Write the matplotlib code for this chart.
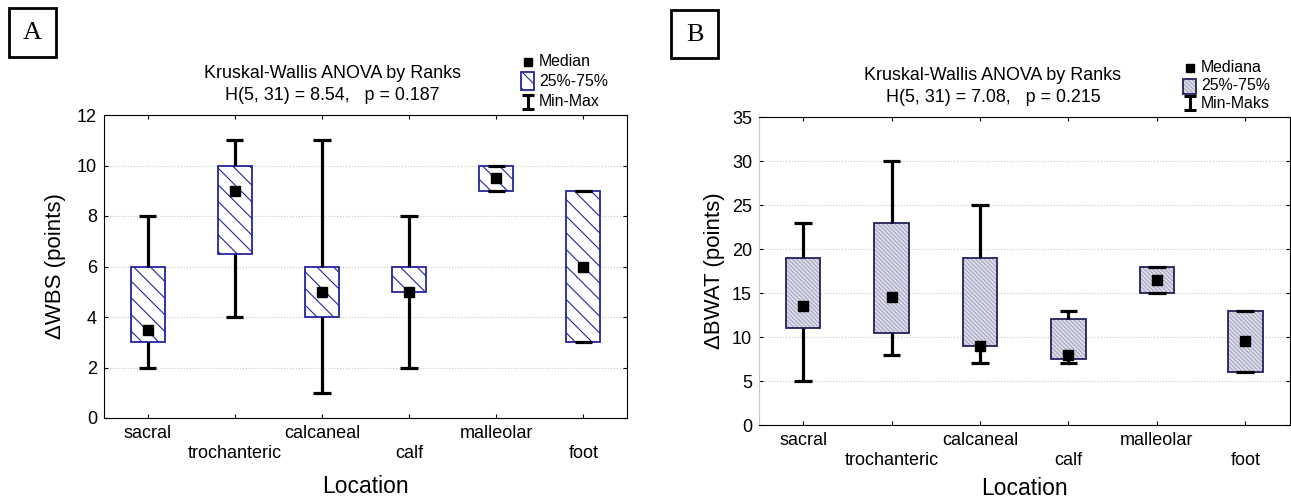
import matplotlib
matplotlib.use('Agg')
import matplotlib.pyplot as plt
from matplotlib.patches import Rectangle
import numpy as np

plt.rcParams['font.family'] = ['Liberation Sans', 'DejaVu Sans']
plt.rcParams['hatch.linewidth'] = 0.8

# 부위 이름
locations = ['sacral', 'trochanteric', 'calcaneal', 'calf', 'malleolar', 'foot']

# A: WBS 변화량 (min, 25%, median, 75%, max)
wbs_min = [2, 4, 1, 2, 9, 3]
wbs_q1 = [3, 6.5, 4, 5, 9, 3]
wbs_med = [3.5, 9, 5, 5, 9.5, 6]
wbs_q3 = [6, 10, 6, 6, 10, 9]
wbs_max = [8, 11, 11, 8, 10, 9]

# B: BWAT 변화량
bwat_min = [5, 8, 7, 7, 15, 6]
bwat_q1 = [11, 10.5, 9, 7.5, 15, 6]
bwat_med = [13.5, 14.5, 9, 8, 16.5, 9.5]
bwat_q3 = [19, 23, 19, 12, 18, 13]
bwat_max = [23, 30, 25, 13, 18, 13]

W, H = 1291, 500
fig = plt.figure(figsize=(W / 100, H / 100), dpi=100)

B_FILL = '#dedeea'
B_HATCH = '#a6a6c2'
B_EDGE = '#22225c'
A_EDGE = '#2424a0'


def px_axes(left, top, right, bottom):
    return fig.add_axes([left / W, 1 - bottom / H, (right - left) / W, (bottom - top) / H])


def draw_box(ax, mins, q1, med, q3, maxs, style, xpad):
    x = np.arange(1, len(locations) + 1)
    q1 = np.array(q1)
    q3 = np.array(q3)
    bw = 0.39
    cw = 0.2
    if style == 'A':
        ax.bar(x, q3 - q1, bottom=q1, width=bw, facecolor='white',
               edgecolor=A_EDGE, linewidth=1.3, hatch=r'\\', zorder=2)
    else:
        ax.bar(x, q3 - q1, bottom=q1, width=bw, facecolor=B_FILL,
               edgecolor=B_HATCH, linewidth=0, hatch=r'\\\\\\\\', zorder=2)
        ax.bar(x, q3 - q1, bottom=q1, width=bw, facecolor='none',
               edgecolor=B_EDGE, linewidth=1.3, zorder=2)
    ax.vlines(x, mins, q1, color='black', linewidth=2.3, zorder=3)
    ax.vlines(x, q3, maxs, color='black', linewidth=2.3, zorder=3)
    ax.hlines(mins, x - cw / 2, x + cw / 2, color='black', linewidth=2.3, zorder=3)
    ax.hlines(maxs, x - cw / 2, x + cw / 2, color='black', linewidth=2.3, zorder=3)
    ax.plot(x, med, 's', color='black', markersize=6.5, zorder=4)

    ax.set_xlim(0.5, 6.5)
    ax.set_xticks(x)
    ax.set_xticklabels([n if i % 2 == 0 else '\n' + n for i, n in enumerate(locations)],
                       fontsize=13, linespacing=1.2)
    ax.tick_params(direction='in', top=True, right=True, length=3, labelsize=13)
    ax.tick_params(axis='x', pad=5)
    ax.tick_params(axis='y', pad=5)
    ax.yaxis.grid(True, linestyle=':', color='#c8c8c8', linewidth=0.8)
    ax.set_axisbelow(True)
    ax.set_xlabel('Location', fontsize=16.5, labelpad=xpad)


# A 그래프
axA = px_axes(104, 115, 627, 418)
draw_box(axA, wbs_min, wbs_q1, wbs_med, wbs_q3, wbs_max, 'A', 10)
axA.set_ylim(0, 12)
axA.set_yticks(range(0, 13, 2))
axA.set_ylabel('ΔWBS (points)', fontsize=16, labelpad=8)

# B 그래프
axB = px_axes(759, 117, 1289.5, 425)
draw_box(axB, bwat_min, bwat_q1, bwat_med, bwat_q3, bwat_max, 'B', 6)
axB.set_ylim(0, 35)
axB.set_yticks(range(0, 36, 5))
axB.spines['left'].set_color('#c8c8c8')
axB.set_ylabel('ΔBWAT (points)', fontsize=16, labelpad=5)

# 제목, 범례, 패널 문자
ov = fig.add_axes([0, 0, 1, 1])
ov.set_xlim(0, W)
ov.set_ylim(H, 0)
ov.axis('off')
ov.patch.set_alpha(0)

ov.text(332, 74, 'Kruskal-Wallis ANOVA by Ranks', ha='center', va='center', fontsize=12.9)
ov.text(332, 95, 'H(5, 31) = 8.54,   p = 0.187', ha='center', va='center', fontsize=12.9)
ov.text(993, 76, 'Kruskal-Wallis ANOVA by Ranks', ha='center', va='center', fontsize=12.9)
ov.text(993, 97, 'H(5, 31) = 7.08,   p = 0.215', ha='center', va='center', fontsize=12.9)


def legend(x0, ys, names, style):
    cx = x0 + 6.5
    ov.plot([cx], [ys[0]], 's', color='black', markersize=6)
    if style == 'A':
        ov.add_patch(Rectangle((x0, ys[1] - 9), 13, 18, facecolor='white',
                               edgecolor=A_EDGE, linewidth=1.3, hatch=r'\\'))
    else:
        ov.add_patch(Rectangle((x0, ys[1] - 7.5), 13, 15, facecolor=B_FILL,
                               edgecolor=B_HATCH, linewidth=0, hatch=r'\\\\\\\\'))
        ov.add_patch(Rectangle((x0, ys[1] - 7.5), 13, 15, facecolor='none',
                               edgecolor=B_EDGE, linewidth=1.3))
    ov.vlines(cx, ys[2] - 7, ys[2] + 7, color='black', linewidth=2.2)
    ov.hlines([ys[2] - 7, ys[2] + 7], cx - 6, cx + 6, color='black', linewidth=2.2)
    for y, n in zip(ys, names):
        ov.text(x0 + 18, y, n, ha='left', va='center', fontsize=11.4)


legend(521, [62, 81, 102], ['Median', '25%-75%', 'Min-Max'], 'A')
legend(1183, [67.5, 86, 103], ['Mediana', '25%-75%', 'Min-Maks'], 'B')

ov.add_patch(Rectangle((9, 8), 47, 49, facecolor='none', edgecolor='black', linewidth=2))
ov.text(32.5, 33, 'A', ha='center', va='center', fontsize=19, family='Liberation Serif')
ov.add_patch(Rectangle((671, 10), 47, 48, facecolor='none', edgecolor='black', linewidth=2))
ov.text(694.5, 35, 'B', ha='center', va='center', fontsize=19, family='Liberation Serif')

fig.savefig('out.png', dpi=100)
